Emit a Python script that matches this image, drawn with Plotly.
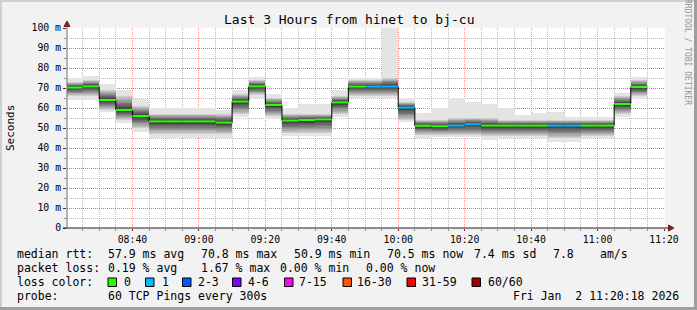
import plotly.graph_objects as go

DAY = "2026-01-02 "
block_times = ["08:20", "08:25", "08:30", "08:35", "08:40", "08:45", "08:50", "08:55",
               "09:00", "09:05", "09:10", "09:15", "09:20", "09:25", "09:30", "09:35",
               "09:40", "09:45", "09:50", "09:55", "10:00", "10:05", "10:10", "10:15",
               "10:20", "10:25", "10:30", "10:35", "10:40", "10:45", "10:50", "10:55",
               "11:00", "11:05", "11:10"]
end_time = "11:15"
median_ms = [70.2, 70.8, 64.0, 59.0, 56.0, 53.3, 53.3, 53.3, 53.3, 52.7, 63.2, 70.8,
             61.5, 53.7, 54.0, 54.3, 62.8, 70.7, 70.7, 70.7, 60.2, 51.1, 50.9, 51.2,
             51.9, 51.2, 51.2, 51.2, 51.2, 51.2, 51.2, 51.2, 51.2, 62.0, 70.5]
loss_idx = [0, 0, 0, 0, 0, 0, 0, 0, 0, 0, 0, 0, 0, 0, 0, 0, 0, 0, 1, 1, 1, 0, 0, 1,
            1, 0, 0, 0, 0, 1, 1, 0, 0, 0, 0]
smoke_max = [75, 76, 72, 69, 64.5, 60, 60, 60, 60, 59, 69, 75.7, 67, 60, 62, 62, 69, 75,
             75, 100, 65, 57.3, 60, 65, 63, 62, 60, 56.5, 57.3, 58, 55.7, 55.7, 55.7, 67.7, 75.3]
core_hi = [73, 74, 69, 66, 61, 57, 57, 57, 57, 57, 67, 74, 65, 57, 57, 57, 66, 74, 74, 75,
           63, 54, 54, 55, 55, 55, 54, 54, 54, 54, 54, 54, 54, 66, 74]
core_lo = [66, 66, 59, 54, 50, 47, 47, 47, 47, 47, 57, 66.5, 56, 47.5, 47.5, 47.5, 57, 66,
           66, 66, 54, 46.5, 46.5, 46.5, 46.5, 46, 46, 46, 46, 45, 45, 46, 46, 57, 66]
smoke_min = [64, 64, 58, 52.5, 48, 45, 45, 45, 45, 45, 55.7, 65, 54.5, 46, 46, 46, 55.7,
             65, 65, 65, 53, 45, 45.3, 45.5, 45.5, 44, 45, 45, 45, 43, 43, 45, 45, 55.7, 64.5]

loss_colors = ["#26ff00", "#00b8ff", "#0059ff", "#7e00ff", "#ff00ff", "#ff5500", "#ff0000", "#a10000"]
loss_labels = ["0", "1", "2-3", "4-6", "7-15", "16-30", "31-59", "60/60"]

y_ticks = [0, 10, 20, 30, 40, 50, 60, 70, 80, 90, 100]
y_ticktext = ["0", "10 m", "20 m", "30 m", "40 m", "50 m", "60 m", "70 m", "80 m", "90 m", "100 m"]
x_range = [DAY + "08:20:18", DAY + "11:20:18"]

title = "Last 3 Hours from hinet to bj-cu"
stat_rtt = ["median rtt:", "57.9 ms avg", "70.8 ms max", "50.9 ms min", "70.5 ms now",
            "7.4 ms sd", "7.8", "am/s"]
stat_loss = ["packet loss:", "0.19 % avg", "1.67 % max", "0.00 % min", "0.00 % now"]
probe_text = ["probe:", "60 TCP Pings every 300s"]
stamp = "Fri Jan  2 11:20:18 2026"

# ---------------- geometry / styles ----------------
W, H = 697, 310
L, R, T, B = 67, 665, 28, 228
FONT = "DejaVu Sans Mono"
STEP_MS = 300000


def px(x):
    return (x - L) / (R - L)


def py(y):
    return (B - y) / (B - T)


def nb(s):
    return s.replace("  ", " \u00a0")


xs = [DAY + t for t in block_times]
fig = go.Figure()

# outer light smoke
fig.add_trace(go.Bar(x=xs, base=smoke_min, y=[a - b for a, b in zip(smoke_max, smoke_min)],
                     width=STEP_MS, offset=0, marker=dict(color="#e4e4e4", line=dict(width=0)),
                     hoverinfo="skip"))
# graded core smoke
N = 10
for k in range(N):
    lo = [c + (m - c) * k / N for c, m in zip(core_lo, median_ms)]
    hi = [c - (c - m) * k / N for c, m in zip(core_hi, median_ms)]
    g = int(205 - k * (205 - 55) / (N - 1))
    fig.add_trace(go.Bar(x=xs, base=lo, y=[h - l for h, l in zip(hi, lo)], width=STEP_MS,
                         offset=0, marker=dict(color=f"rgb({g},{g},{g})", line=dict(width=0)),
                         hoverinfo="skip"))

# median step line
fig.add_trace(go.Scatter(x=xs + [DAY + end_time], y=median_ms + [median_ms[-1]], mode="lines",
                         line=dict(color="#000000", width=1, shape="hv"), hoverinfo="skip"))
ends = xs[1:] + [DAY + end_time]
for ci, col in enumerate(loss_colors):
    sx, sy = [], []
    for i, li in enumerate(loss_idx):
        if li == ci:
            sx += [xs[i], ends[i], None]
            sy += [median_ms[i], median_ms[i], None]
    if sx:
        fig.add_trace(go.Scatter(x=sx, y=sy, mode="lines", line=dict(color=col, width=2),
                                 hoverinfo="skip"))

ann = []


def txt(x, y, s, size=11.5, anchor="left", color="#000000", angle=0):
    ann.append(dict(x=px(x), y=py(y), xref="paper", yref="paper", text=nb(s), showarrow=False,
                    xanchor=anchor, yanchor="middle", textangle=angle, borderpad=0,
                    font=dict(family=FONT, size=size, color=color)))


txt(349, 20, title, size=13, anchor="center")
txt(10, 128, "Seconds", size=11, anchor="center", angle=-90)
txt(688, 52, "RRDTOOL / TOBI OETIKER", size=8, anchor="center", color="#969696", angle=90)

rtt_x = [16, 107, 200, 293, 386, 472.5, 551.5, 599]
for x, s in zip(rtt_x, stat_rtt):
    txt(x, 254, s)
loss_x = [16, 107, 200, 279, 365]
for x, s in zip(loss_x, stat_loss):
    txt(x, 268, s)
txt(16, 282, "loss color:")
sq_x = [108, 145.5, 182.5, 232.5, 284.5, 343, 407, 472]
lab_x = [123, 160.5, 197, 247, 298, 356, 421, 486.5]
shapes = []
for x, lx, col, lab in zip(sq_x, lab_x, loss_colors, loss_labels):
    shapes.append(dict(type="rect", xref="paper", yref="paper", x0=px(x), x1=px(x + 8.5),
                       y0=py(278), y1=py(286.5), fillcolor=col, line=dict(color="#000000", width=1)))
    txt(lx, 282, lab)
txt(16, 296, probe_text[0])
txt(107, 296, probe_text[1])
txt(680, 296, stamp, anchor="right")

# frame
shapes += [
    dict(type="rect", xref="paper", yref="paper", x0=px(0), x1=px(W), y0=py(0), y1=py(2),
         fillcolor="#cfcfcf", line=dict(width=0)),
    dict(type="rect", xref="paper", yref="paper", x0=px(0), x1=px(2), y0=py(0), y1=py(H),
         fillcolor="#cfcfcf", line=dict(width=0)),
    dict(type="rect", xref="paper", yref="paper", x0=px(0), x1=px(W), y0=py(H - 3), y1=py(H),
         fillcolor="#9e9e9e", line=dict(width=0)),
    dict(type="rect", xref="paper", yref="paper", x0=px(W - 3), x1=px(W), y0=py(0), y1=py(H),
         fillcolor="#9e9e9e", line=dict(width=0)),
    # axis extensions and arrows
    dict(type="line", xref="paper", yref="paper", x0=px(L), x1=px(L), y0=py(B), y1=py(25),
         line=dict(color="#707070", width=1)),
    dict(type="line", xref="paper", yref="paper", x0=px(63), x1=px(669), y0=py(B), y1=py(B),
         line=dict(color="#1f1f1f", width=1)),
    dict(type="path", xref="paper", yref="paper",
         path=f"M {px(64)},{py(26.5)} L {px(67)},{py(21)} L {px(70)},{py(26.5)} Z",
         fillcolor="#801f1f", line=dict(color="#801f1f", width=1)),
    dict(type="path", xref="paper", yref="paper",
         path=f"M {px(668.5)},{py(225)} L {px(674)},{py(228)} L {px(668.5)},{py(231)} Z",
         fillcolor="#801f1f", line=dict(color="#801f1f", width=1)),
]

MGRID = "rgba(222,79,79,0.6)"
GRID = "rgba(143,143,143,0.6)"
fig.update_layout(
    width=W, height=H, margin=dict(l=L, r=W - R, t=T, b=H - B, pad=0),
    paper_bgcolor="#f2f2f2", plot_bgcolor="#ffffff", showlegend=False, barmode="overlay",
    bargap=0, hovermode=False, annotations=ann, shapes=shapes,
    xaxis=dict(type="date", range=x_range, tick0=DAY + "08:40", dtick=20 * 60 * 1000,
               tickformat="%H:%M", showgrid=True, gridcolor=MGRID, griddash="1px,1px",
               gridwidth=1, showline=False, zeroline=False, ticks="outside", ticklen=2,
               tickcolor="#801f1f", tickfont=dict(family=FONT, size=9.8, color="#000000"),
               minor=dict(dtick=STEP_MS, tick0=DAY + "08:20", showgrid=True, gridcolor=GRID,
                          griddash="1px,1px", gridwidth=1, ticks="outside", ticklen=2,
                          tickcolor="#8f8f8f"),
               fixedrange=True),
    yaxis=dict(range=[0, 100], tickvals=y_ticks, ticktext=y_ticktext, showgrid=True,
               gridcolor=MGRID, griddash="1px,1px", gridwidth=1, showline=False,
               zeroline=False, ticks="outside", ticklen=3, tickcolor="#801f1f",
               tickfont=dict(family=FONT, size=9.8, color="#000000"),
               minor=dict(dtick=5, showgrid=True, gridcolor=GRID, griddash="1px,1px",
                          gridwidth=1, ticks="outside", ticklen=2, tickcolor="#8f8f8f"),
               fixedrange=True),
)
fig.write_html("out.html")
